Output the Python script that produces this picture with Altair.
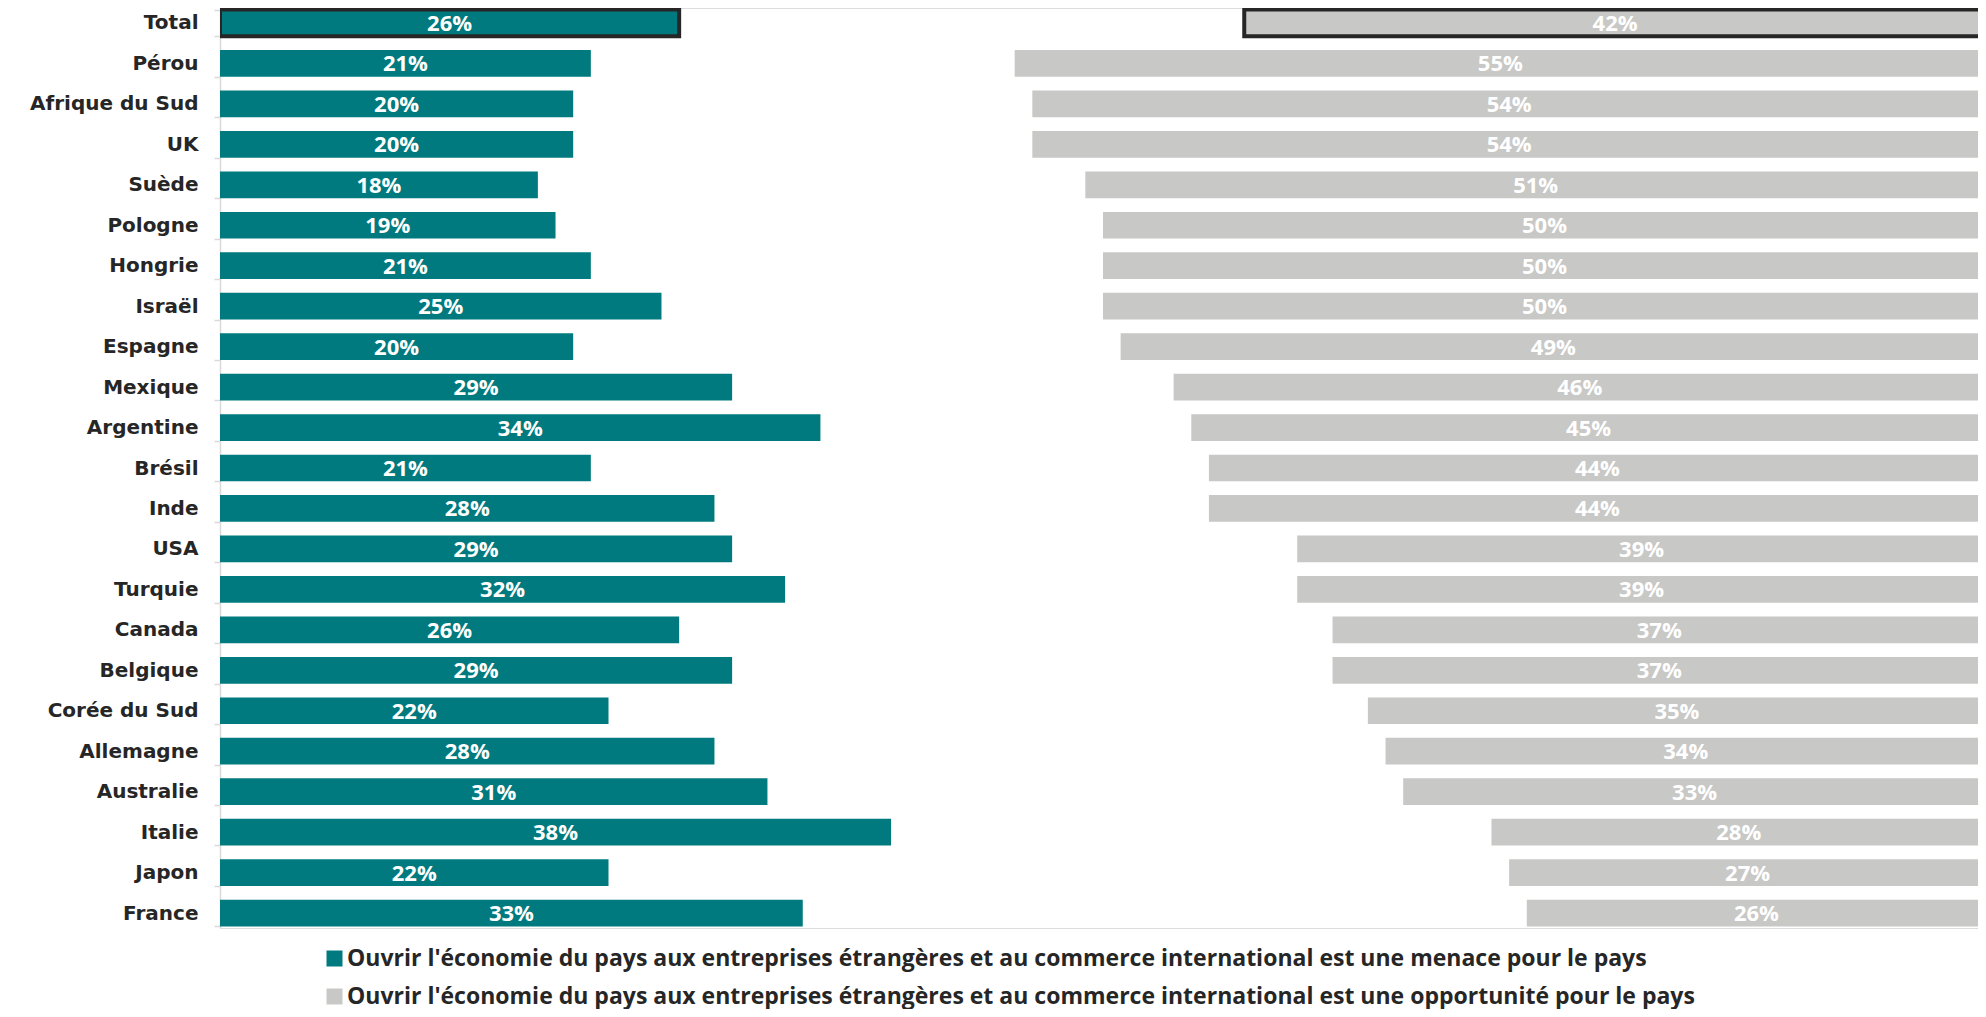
import altair as alt
import pandas as pd

pays = ["Total", "Pérou", "Afrique du Sud", "UK", "Suède", "Pologne", "Hongrie",
        "Israël", "Espagne", "Mexique", "Argentine", "Brésil", "Inde", "USA",
        "Turquie", "Canada", "Belgique", "Corée du Sud", "Allemagne", "Australie",
        "Italie", "Japon", "France"]
menace = [26, 21, 20, 20, 18, 19, 21, 25, 20, 29, 34, 21, 28, 29, 32, 26, 29, 22, 28, 31, 38, 22, 33]
opportunite = [42, 55, 54, 54, 51, 50, 50, 50, 49, 46, 45, 44, 44, 39, 39, 37, 37, 35, 34, 33, 28, 27, 26]

series = [
    "Ouvrir l'économie du pays aux entreprises étrangères et au commerce international est une menace pour le pays",
    "Ouvrir l'économie du pays aux entreprises étrangères et au commerce international est une opportunité pour le pays",
]
cles = ["menace", "opportunite"]
couleurs = ["#007A7E", "#C8C8C6"]

rows = []
for p, m, o in zip(pays, menace, opportunite):
    rows.append({"pays": p, "serie": series[0], "cle": cles[0], "valeur": m})
    rows.append({"pays": p, "serie": series[1], "cle": cles[1], "valeur": o})
df = pd.DataFrame(rows)

base = alt.Chart(df).transform_calculate(
    debut="datum.cle === 'menace' ? 0 : 100 - datum.valeur",
    fin="datum.cle === 'menace' ? datum.valeur : 100",
).transform_calculate(
    milieu="(datum.debut + datum.fin) / 2",
    etiquette="datum.valeur + '%'",
)

y_enc = alt.Y(
    "pays:N",
    sort=pays,
    title=None,
    scale=alt.Scale(paddingInner=0.34, paddingOuter=0.04),
    axis=alt.Axis(
        labelFont="DejaVu Sans",
        labelFontWeight="bold",
        labelFontSize=20,
        labelColor="#262626",
        labelPadding=16,
        tickSize=6,
        tickColor="#D9D9D9",
        domainColor="#D9D9D9",
        domainWidth=1.5,
        tickWidth=1.5,
        tickBand="extent",
    ),
)

# the 100 % end of the bars lies just past the visible right edge
x_scale = alt.Scale(domain=[0, 99.55], nice=False, zero=False)

bars = base.mark_bar(clip=True).encode(
    x=alt.X("debut:Q", scale=x_scale, axis=None),
    x2="fin:Q",
    y=y_enc,
    color=alt.Color(
        "serie:N",
        scale=alt.Scale(domain=series, range=couleurs),
        legend=alt.Legend(
            title=None,
            orient="none",
            legendX=103,
            legendY=939,
            direction="vertical",
            symbolType="square",
            symbolSize=256,
            symbolStrokeWidth=0,
            labelFont="Open Sans",
            labelFontWeight="bold",
            labelFontSize=23,
            labelColor="#262626",
            labelLimit=1700,
            labelOffset=1,
            rowPadding=14,
            padding=0,
        ),
    ),
    stroke=alt.condition("datum.pays === 'Total'", alt.value("#262626"), alt.value("transparent")),
    strokeWidth=alt.condition("datum.pays === 'Total'", alt.value(4), alt.value(0)),
)

labels = base.mark_text(
    font="Open Sans", fontWeight="bold", fontSize=22, color="white", baseline="middle", dy=1
).encode(
    x=alt.X("milieu:Q", scale=x_scale, axis=None),
    y=alt.Y("pays:N", sort=pays),
    text="etiquette:N",
)

chart = alt.layer(bars, labels).properties(
    width=1758,
    height=920,
    padding={"left": 212, "top": 0, "right": 0, "bottom": 81},
    autosize=alt.AutoSizeParams(type="none"),
).configure_view(strokeWidth=0).configure(background="white")

chart.save("out.html", embed_options={"renderer": "svg", "actions": False})
